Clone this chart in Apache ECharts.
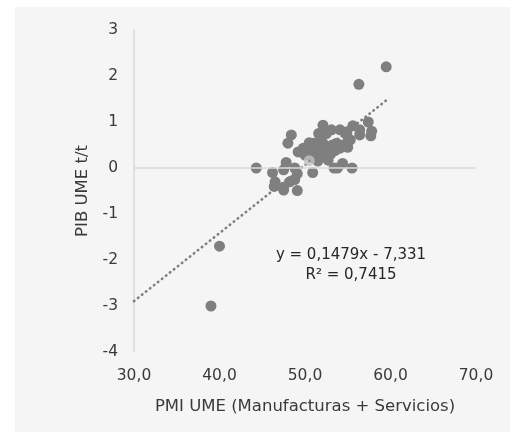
<!DOCTYPE html>
<html>
<head>
<meta charset="utf-8">
<script src="https://cdn.jsdelivr.net/npm/echarts@6/dist/echarts.min.js"></script>
<style>
html,body{margin:0;padding:0;background:#fff;}
#wrap{position:relative;width:510px;height:432px;background:#fff;overflow:hidden;}
#chart{position:absolute;left:15px;top:7px;width:495px;height:425px;background:#f5f5f5;}
</style>
</head>
<body>
<div id="wrap"><div id="chart"></div></div>
<script>
// PMI UME (x) vs PIB UME t/t (y)
var points = [
  [59.5, 2.2], [56.3, 1.82], [57.4, 1.0], [57.8, 0.8], [57.7, 0.7],
  [55.6, 0.92], [56.4, 0.83], [56.4, 0.72], [52.1, 0.93],
  [53.1, 0.83], [54.1, 0.83], [54.9, 0.79], [52.5, 0.75], [54.9, 0.72],
  [48.4, 0.72], [48.0, 0.54],
  [44.3, 0.0], [46.2, -0.1], [46.5, -0.3], [46.4, -0.4], [47.5, -0.48],
  [47.8, 0.12], [47.5, -0.04], [48.8, 0.0], [49.1, -0.12], [48.8, -0.25],
  [48.2, -0.3], [47.5, -0.42], [49.1, -0.49],
  [50.9, -0.1], [53.4, 0.0], [54.4, 0.1], [55.5, 0.0], [53.8, 0.0],
  [49.2, 0.35], [49.8, 0.43], [50.0, 0.28], [51.0, 0.54], [51.8, 0.68],
  [51.4, 0.35], [52.5, 0.25], [52.9, 0.43], [54.1, 0.43], [54.9, 0.54],
  [55.3, 0.61], [53.7, 0.54], [52.1, 0.54], [51.8, 0.25], [52.7, 0.17],
  [51.6, 0.75], [50.3, 0.4], [50.6, 0.35], [51.2, 0.45], [51.5, 0.5],
  [52.3, 0.4], [53.2, 0.5], [53.5, 0.38], [54.5, 0.5], [55.0, 0.45],
  [51.0, 0.22], [51.5, 0.15], [52.0, 0.35], [50.5, 0.55], [53.0, 0.3],
  [40.0, -1.7], [39.0, -3.0]
];
var highlight = [[50.5, 0.16]];
var trendData = [[30, -2.894], [59.6, 1.484]];
var xTicks = [30, 40, 50, 60, 70];
var yTicks = [-4, -3, -2, -1, 0, 1, 2, 3];
var eqLine1 = 'y = 0,1479x - 7,331';
var eqLine2 = 'R² = 0,7415';

var FONT = 'DejaVu Sans';
var TXT = '#3a3a3a';
var chart = echarts.init(document.getElementById('chart'), null, {renderer: 'canvas'});
chart.setOption({
  animation: false,
  backgroundColor: '#f5f5f5',
  textStyle: {fontFamily: FONT},
  grid: {left: 119, right: 34, top: 23, bottom: 80},
  xAxis: {
    type: 'value', min: xTicks[0], max: xTicks[xTicks.length - 1], interval: 10,
    name: 'PMI UME (Manufacturas + Servicios)', nameLocation: 'middle', nameGap: 46,
    nameTextStyle: {fontFamily: FONT, fontSize: 16.5, color: TXT},
    axisLine: {show: false}, axisTick: {show: false}, splitLine: {show: false},
    axisLabel: {margin: 16, fontFamily: FONT, fontSize: 15.5, color: TXT,
      formatter: function (v) { return v.toFixed(1).replace('.', ','); }}
  },
  yAxis: {
    type: 'value', min: yTicks[0], max: yTicks[yTicks.length - 1], interval: 1,
    name: 'PIB UME t/t', nameLocation: 'middle', nameGap: 42,
    nameTextStyle: {fontFamily: FONT, fontSize: 16.5, color: TXT},
    axisLine: {show: true, onZero: false, lineStyle: {color: '#d9d9d9', width: 1.5}},
    axisTick: {show: false}, splitLine: {show: false},
    axisLabel: {margin: 16, fontFamily: FONT, fontSize: 15.5, color: TXT}
  },
  series: [
    {
      type: 'line', data: trendData, symbol: 'none', silent: true, z: 1,
      lineStyle: {color: '#7f7f7f', width: 2.6, type: [0.5, 4.6], cap: 'round'},
      markLine: {
        silent: true, symbol: 'none', label: {show: false},
        lineStyle: {color: '#d9d9d9', width: 1.5, type: 'solid'},
        data: [[{coord: [xTicks[0], 0]}, {coord: [xTicks[xTicks.length - 1], 0]}]]
      }
    },
    {
      type: 'scatter', data: points, symbolSize: 11, z: 2,
      itemStyle: {color: '#7f7f7f', opacity: 1}
    },
    {
      type: 'scatter', data: highlight, symbolSize: 11, z: 3,
      itemStyle: {color: '#c3c3c3'}
    },
    {
      type: 'scatter', data: highlight, symbolSize: 3, z: 4,
      itemStyle: {color: '#8a8a8a'}
    }
  ],
  graphic: [
    {type: 'text', x: 336, y: 258, z: 10,
      style: {text: eqLine1 + '\n' + eqLine2, textAlign: 'center', textVerticalAlign: 'middle',
        font: '15px "DejaVu Sans"', fill: '#262626', lineHeight: 20}}
  ]
});
</script>
</body>
</html>
